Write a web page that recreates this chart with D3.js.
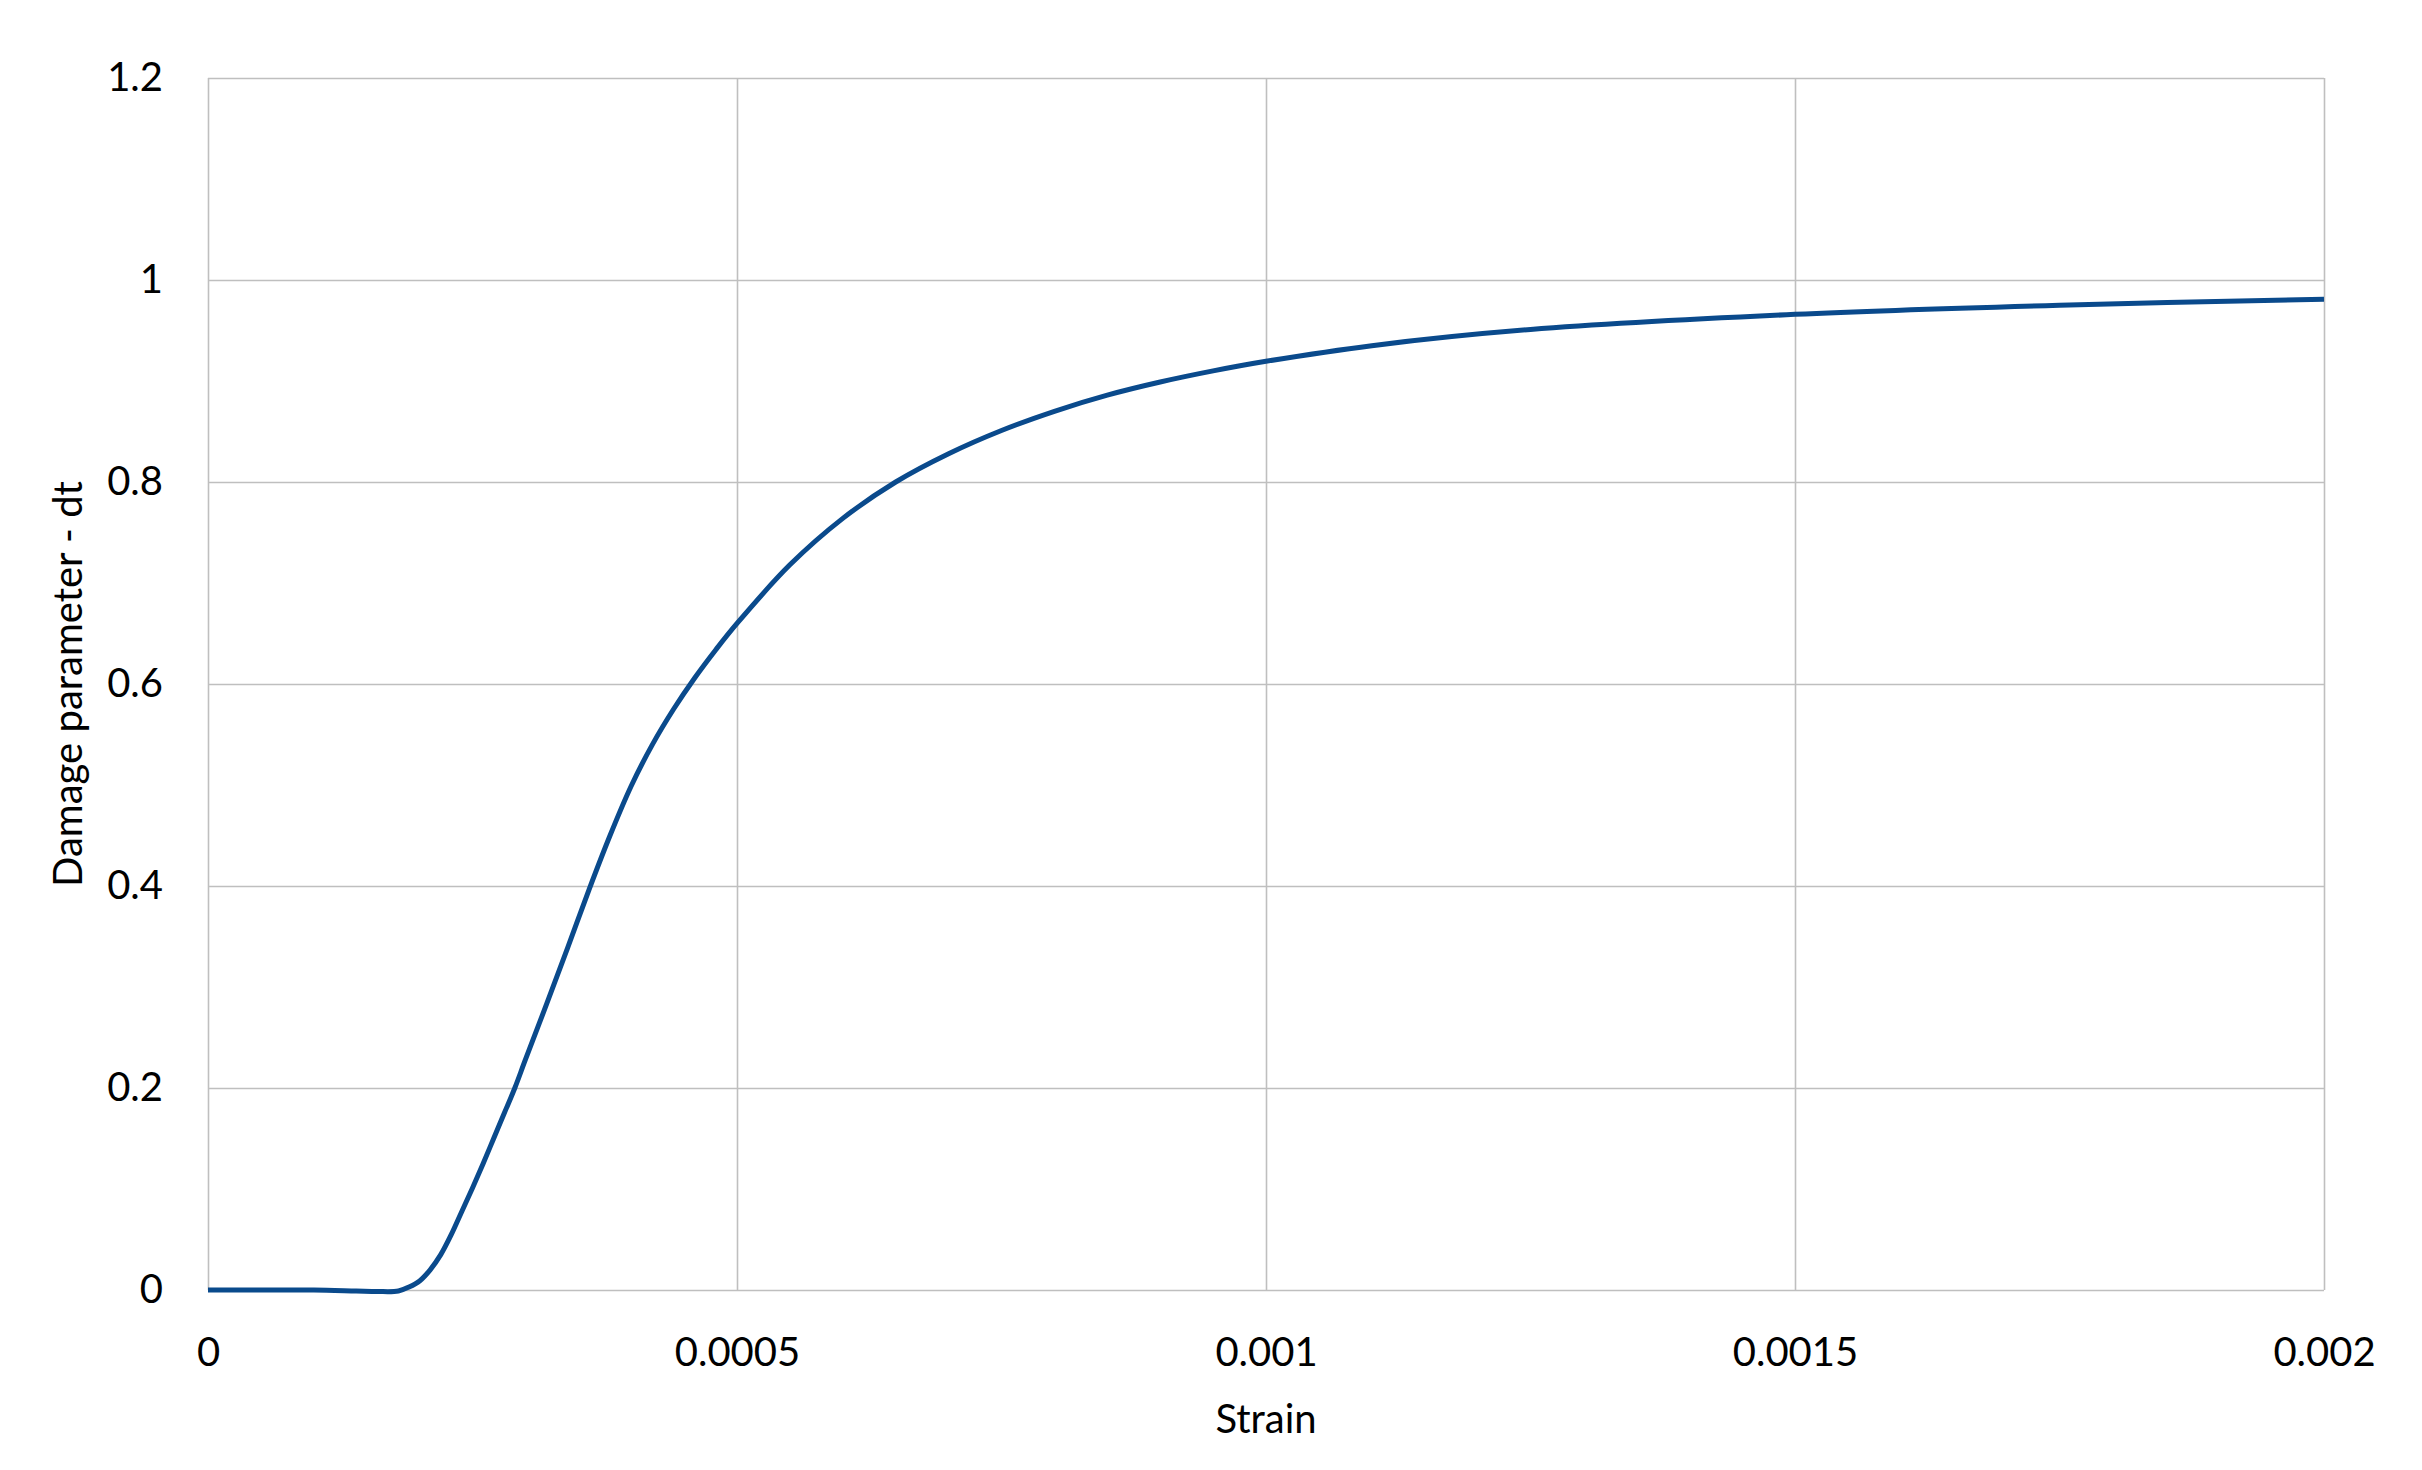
<!DOCTYPE html>
<html>
<head>
<meta charset="utf-8">
<script src="https://cdn.jsdelivr.net/npm/d3@7"></script>
<style>
  body { margin: 0; background: #fff; }
  text { font-family: Lato, "Open Sans", sans-serif; fill: #000; }
</style>
</head>
<body>
<div id="plot"></div>
<script>
// Data
const strain = [0, 0.00005, 0.0001, 0.00014, 0.00016, 0.00018, 0.00019, 0.0002, 0.00021, 0.00022,
    0.00023, 0.00024, 0.00025, 0.00026, 0.00027, 0.00028, 0.00029, 0.0003, 0.00032, 0.00034,
    0.00036, 0.00038, 0.0004, 0.00042, 0.00044, 0.00046, 0.00048, 0.0005, 0.00055, 0.0006,
    0.00065, 0.0007, 0.00075, 0.0008, 0.00085, 0.0009, 0.00095, 0.001, 0.0011, 0.00125,
    0.0015, 0.00175, 0.002];
const damage = [0, 0, 0, -0.001, -0.0015, -0.001, 0.003, 0.009, 0.02, 0.035,
    0.055, 0.078, 0.101, 0.125, 0.15, 0.175, 0.20, 0.228, 0.283, 0.339,
    0.396, 0.450, 0.499, 0.540, 0.575, 0.606, 0.634, 0.66, 0.718, 0.764,
    0.800, 0.828, 0.851, 0.870, 0.886, 0.899, 0.910, 0.9195, 0.935, 0.951,
    0.966, 0.975, 0.981];

const xTicks = [0, 0.0005, 0.001, 0.0015, 0.002];
const xTickLabels = ["0", "0.0005", "0.001", "0.0015", "0.002"];
const yTicks = [0, 0.2, 0.4, 0.6, 0.8, 1, 1.2];
const yTickLabels = ["0", "0.2", "0.4", "0.6", "0.8", "1", "1.2"];

const W = 2422, H = 1470;
const plotLeft = 208, plotRight = 2324, plotTop = 78, plotBottom = 1290;

const svg = d3.select("#plot")
    .append("svg")
    .attr("width", W)
    .attr("height", H);

const x = d3.scaleLinear().domain([0, 0.002]).range([plotLeft, plotRight]);
const y = d3.scaleLinear().domain([0, 1.2]).range([plotBottom, plotTop]);

// Grid lines + tick labels
const xAxis = svg.append("g")
    .attr("transform", `translate(0,${plotBottom})`)
    .call(d3.axisBottom(x)
        .tickValues(xTicks)
        .tickSize(-(plotBottom - plotTop))
        .tickFormat((d, i) => xTickLabels[i]));

const yAxis = svg.append("g")
    .attr("transform", `translate(${plotLeft},0)`)
    .call(d3.axisLeft(y)
        .tickValues(yTicks)
        .tickSize(-(plotRight - plotLeft))
        .tickFormat((d, i) => yTickLabels[i]));

[xAxis, yAxis].forEach(g => {
    g.select(".domain").remove();
    g.selectAll(".tick line")
        .attr("stroke", "#bfbfbf")
        .attr("stroke-width", 1.6);
    g.selectAll(".tick text")
        .style("font-size", "40px")
        .style("font-family", "Lato, 'Open Sans', sans-serif")
        .attr("fill", "#000");
});

xAxis.selectAll(".tick text")
    .attr("y", 0)
    .attr("dy", 0)
    .attr("transform", "translate(0,76)");

yAxis.selectAll(".tick text")
    .attr("x", -45)
    .attr("dy", "0.32em");

// Curve
const pts = strain.map((s, i) => [s, damage[i]]);
svg.append("path")
    .datum(pts)
    .attr("fill", "none")
    .attr("stroke", "#0a4a8c")
    .attr("stroke-width", 5)
    .attr("stroke-linejoin", "round")
    .attr("d", d3.line()
        .x(d => x(d[0]))
        .y(d => y(d[1]))
        .curve(d3.curveCatmullRom.alpha(0.5)));

// Axis titles
svg.append("text")
    .attr("x", (plotLeft + plotRight) / 2)
    .attr("y", 1433)
    .attr("text-anchor", "middle")
    .style("font-size", "40px")
    .text("Strain");

svg.append("text")
    .attr("transform", `translate(82,${(plotTop + plotBottom) / 2}) rotate(-90)`)
    .attr("text-anchor", "middle")
    .style("font-size", "40px")
    .text("Damage parameter - dt");
</script>
</body>
</html>
